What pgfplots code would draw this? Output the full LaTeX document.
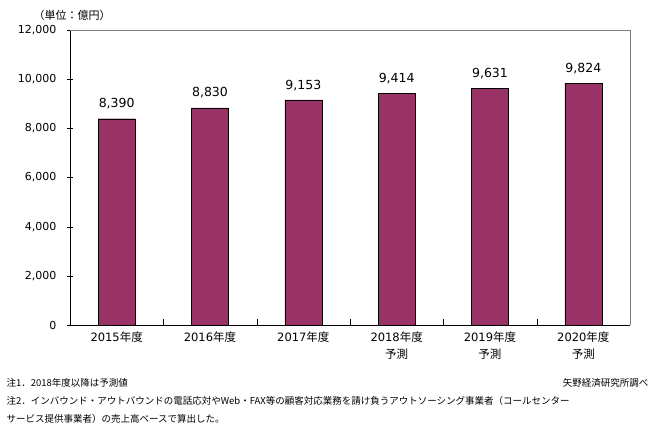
\documentclass[border=0pt]{standalone}
\usepackage{fontspec}
\setmainfont{DejaVu Sans}
\newfontfamily\jp{Noto Sans CJK JP}
\usepackage{pgfplots}
\pgfplotsset{compat=1.18}
\definecolor{plum}{HTML}{993366}

\begin{document}
\begin{tikzpicture}[x=1pt,y=1pt]
\begin{axis}[
  at={(0,0)}, anchor=south west,
  scale only axis,
  width=560pt, height=295pt,
  xmin=-0.5, xmax=5.5,
  ymin=0, ymax=12000,
  ytick={0,2000,...,12000},
  /pgf/number format/1000 sep={,},
  /pgf/number format/assume math mode=true,
  scaled y ticks=false,
  tick label style={font=\fontsize{11}{13}\selectfont},
  yticklabel style={xshift=-7pt},
  xtick={0.5,1.5,2.5,3.5,4.5},
  xticklabels={},
  extra x ticks={0,1,2,3,4,5},
  extra x tick labels={2015{\jp 年度},2016{\jp 年度},2017{\jp 年度},2018{\jp 年度}\\[4pt]{\jp 予測},2019{\jp 年度}\\[4pt]{\jp 予測},2020{\jp 年度}\\[4pt]{\jp 予測}},
  extra x tick style={major tick length=0pt, xticklabel style={align=center, anchor=north, yshift=-3pt, font=\fontsize{11.5}{13}\selectfont}},
  axis x line*=bottom, axis y line*=left,
  x axis line style={-}, y axis line style={-},
  tick align=center,
  major tick length=6pt,
  x tick style={black, yshift=3pt},
  y tick style={black},
  axis line style={black},
  clip=false,
]
\draw[gray] (rel axis cs:0,1) -- (rel axis cs:1,1) -- (rel axis cs:1,0);
\addplot[ybar, bar width=37pt, fill=plum, draw=black,
  nodes near coords,
  nodes near coords style={font=\fontsize{12.5}{14}\selectfont, black, yshift=6pt},
  ] coordinates {(0,8390)(1,8830)(2,9153)(3,9414)(4,9631)(5,9824)};
\end{axis}
\node[font=\jp\fontsize{11}{13}\selectfont, anchor=west] at (-40,310) {（単位：億円）};
\node[font=\jp\fontsize{9.5}{11}\selectfont, anchor=west] at (-67,-58) {注1．2018年度以降は予測値};
\node[font=\jp\fontsize{9.5}{11}\selectfont, anchor=east] at (582,-58) {矢野経済研究所調べ};
\node[font=\jp\fontsize{9.5}{11}\selectfont, anchor=west] at (-67,-76) {注2．インバウンド・アウトバウンドの電話応対やWeb・FAX等の顧客対応業務を請け負うアウトソーシング事業者（コールセンター};
\node[font=\jp\fontsize{9.5}{11}\selectfont, anchor=west] at (-67,-94) {サービス提供事業者）の売上高ベースで算出した。};
\pgfresetboundingbox
\path (-70,-114) rectangle (584,325);
\end{tikzpicture}
\end{document}
